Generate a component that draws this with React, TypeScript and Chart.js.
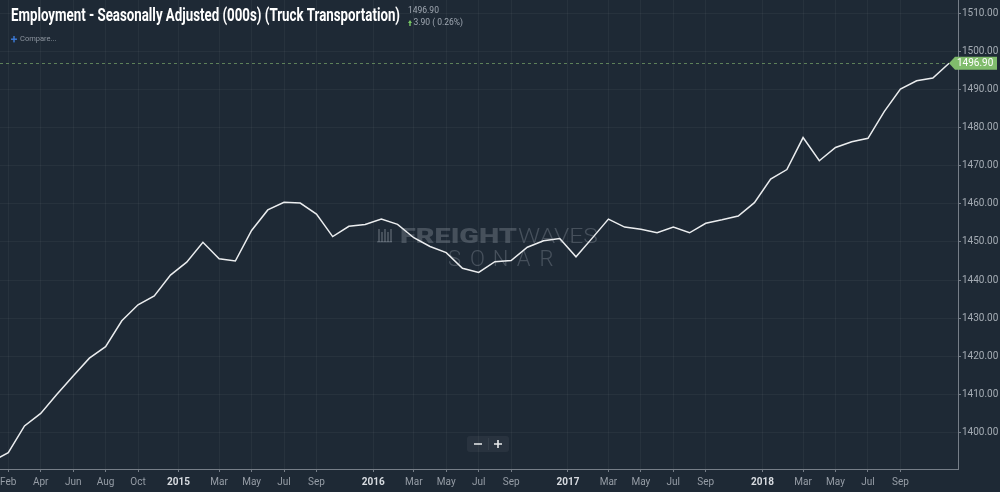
import React, { useEffect, useRef } from "react";
import { Chart, registerables } from "chart.js";
Chart.register(...registerables);

// Monthly values, Jan 2014 .. Dec 2018 (thousands of employees)
const employment = [
  1392.4, 1394.7, 1401.7, 1405.0, 1410.0, 1414.8, 1419.5, 1422.5, 1429.3, 1433.5, 1435.8, 1441.3,
  1444.7, 1449.9, 1445.6, 1445.0, 1453.0, 1458.4, 1460.4, 1460.2, 1457.3, 1451.4, 1454.1, 1454.6,
  1456.0, 1454.6, 1451.1, 1448.8, 1447.2, 1443.1, 1442.0, 1444.8, 1445.1, 1448.6, 1450.3, 1450.9,
  1446.1, 1451.0, 1456.0, 1453.9, 1453.3, 1452.4, 1453.9, 1452.4, 1454.9, 1455.8, 1456.8, 1460.3,
  1466.5, 1469.0, 1477.4, 1471.3, 1474.8, 1476.3, 1477.2, 1484.2, 1490.1, 1492.3, 1493.0, 1496.9,
];
// month index (0 = Jan 2014) of each x tick, and its label
const xTickValues = [1, 3, 5, 7, 9, 11.5, 14, 16, 18, 20, 23.5, 26, 28, 30, 32, 35.5, 38, 40, 42, 44, 47.5, 50, 52, 54, 56];
const xTickLabels = ["Feb", "Apr", "Jun", "Aug", "Oct", "2015", "Mar", "May", "Jul", "Sep", "2016", "Mar", "May", "Jul", "Sep", "2017", "Mar", "May", "Jul", "Sep", "2018", "Mar", "May", "Jul", "Sep"];
const yTickValues = [1400, 1410, 1420, 1430, 1440, 1450, 1460, 1470, 1480, 1490, 1500, 1510];

const TITLE = "Employment - Seasonally Adjusted (000s) (Truck Transportation)";
const LAST_VALUE = "1496.90";
const CHANGE = "3.90 ( 0.26%)";
const COMPARE = "Compare...";

const BG = "rgb(30,41,53)";
const GRID = "rgba(255,255,255,0.045)";
const AXIS = "rgb(118,126,136)";
const FONT = "Roboto";

function fitText(ctx: CanvasRenderingContext2D, text: string, x: number, y: number, width: number) {
  const w = ctx.measureText(text).width;
  ctx.save();
  ctx.translate(x, y);
  ctx.scale(width / w, 1);
  ctx.fillText(text, 0, 0);
  ctx.restore();
}

const decor = {
  id: "decor",
  beforeDraw(chart: any) {
    const ctx = chart.ctx as CanvasRenderingContext2D;
    ctx.save();
    ctx.fillStyle = BG;
    ctx.fillRect(0, 0, chart.width, chart.height);
    ctx.restore();
  },
  beforeDatasetsDraw(chart: any) {
    const ctx = chart.ctx as CanvasRenderingContext2D;
    const area = chart.chartArea;
    ctx.save();
    // watermark
    const wm = "rgba(140,150,162,0.36)";
    ctx.fillStyle = wm;
    for (let i = 0; i < 5; i++) ctx.fillRect(378 + i * 3, 229 + (i % 2) * 3, 2, 13 - (i % 2) * 3);
    ctx.fillRect(377, 241, 15, 1.5);
    ctx.textBaseline = "alphabetic";
    ctx.textAlign = "left";
    ctx.font = `900 20px ${FONT}`;
    fitText(ctx, "FREIGHT", 400, 243, 117);
    ctx.font = `300 20px ${FONT}`;
    fitText(ctx, "WAVES", 518, 243, 80);
    ctx.font = `300 22px ${FONT}`;
    const sonar = "SONAR";
    const step = 115 / sonar.length;
    for (let i = 0; i < sonar.length; i++) {
      ctx.textAlign = "center";
      ctx.fillText(sonar[i], 443 + step * (i + 0.5), 266);
    }
    // dashed last-value line
    const y = chart.scales.y.getPixelForValue(employment[employment.length - 1]);
    ctx.strokeStyle = "rgba(120,165,105,0.7)";
    ctx.lineWidth = 1;
    ctx.setLineDash([3, 3]);
    ctx.beginPath();
    ctx.moveTo(area.left, Math.round(y) + 0.5);
    ctx.lineTo(area.right, Math.round(y) + 0.5);
    ctx.stroke();
    ctx.restore();
  },
  afterDraw(chart: any) {
    const ctx = chart.ctx as CanvasRenderingContext2D;
    const area = chart.chartArea;
    ctx.save();
    // title
    ctx.fillStyle = "#ffffff";
    ctx.textBaseline = "alphabetic";
    ctx.textAlign = "left";
    ctx.font = `bold 18px ${FONT}`;
    fitText(ctx, TITLE, 11, 21, 389);
    // last value & change
    ctx.font = `8.5px ${FONT}`;
    ctx.fillStyle = "rgb(160,168,178)";
    ctx.textBaseline = "middle";
    ctx.fillText(LAST_VALUE, 408, 10.5);
    ctx.fillText(CHANGE, 413.5, 23);
    ctx.fillStyle = "rgb(120,200,100)";
    ctx.beginPath();
    ctx.moveTo(408, 23);
    ctx.lineTo(412, 23);
    ctx.lineTo(410, 20);
    ctx.closePath();
    ctx.fill();
    ctx.fillRect(409.3, 23, 1.4, 3);
    // compare
    ctx.fillStyle = "rgb(60,125,220)";
    ctx.fillRect(11, 38.5, 6, 1.4);
    ctx.fillRect(13.3, 36, 1.4, 6.4);
    ctx.fillStyle = "rgb(140,148,158)";
    ctx.font = `7.5px ${FONT}`;
    ctx.fillText(COMPARE, 20, 39.5);
    // zoom buttons
    ctx.fillStyle = "rgba(255,255,255,0.05)";
    ctx.beginPath();
    (ctx as any).roundRect(467, 436, 42, 16, 3);
    ctx.fill();
    ctx.fillStyle = "rgba(255,255,255,0.06)";
    ctx.fillRect(488, 438, 1, 12);
    ctx.strokeStyle = "#e8eaec";
    ctx.lineWidth = 1.6;
    ctx.beginPath();
    ctx.moveTo(474, 444);
    ctx.lineTo(482, 444);
    ctx.moveTo(494, 444);
    ctx.lineTo(502, 444);
    ctx.moveTo(498, 440);
    ctx.lineTo(498, 448);
    ctx.stroke();
    // last-value marker on the axis
    const y = chart.scales.y.getPixelForValue(employment[employment.length - 1]);
    ctx.fillStyle = "rgb(128,188,108)";
    ctx.beginPath();
    ctx.moveTo(area.right - 9, y);
    ctx.lineTo(area.right - 3, y - 6.5);
    ctx.lineTo(997, y - 6.5);
    ctx.lineTo(997, y + 6.5);
    ctx.lineTo(area.right - 3, y + 6.5);
    ctx.closePath();
    ctx.fill();
    ctx.fillStyle = "#ffffff";
    ctx.font = `10px ${FONT}`;
    ctx.textBaseline = "middle";
    ctx.fillText(LAST_VALUE, area.right - 1, y + 0.5);
    ctx.restore();
  },
};

export default function App() {
  const ref = useRef<HTMLCanvasElement>(null);
  useEffect(() => {
    if (!ref.current) return;
    const chart = new Chart(ref.current, {
      type: "line",
      data: {
        datasets: [
          {
            data: employment.map((v, i) => ({ x: i, y: v })),
            borderColor: "#ebedef",
            borderWidth: 1.5,
            pointRadius: 0,
            tension: 0,
            fill: false,
          },
        ],
      },
      options: {
        animation: false,
        responsive: false,
        maintainAspectRatio: false,
        layout: { padding: 0 },
        plugins: { legend: { display: false }, tooltip: { enabled: false }, title: { display: false } },
        scales: {
          x: {
            type: "linear",
            min: 0.49,
            max: 59.55,
            afterBuildTicks: (scale: any) => {
              scale.ticks = xTickValues.map((v) => ({ value: v }));
            },
            afterFit: (scale: any) => {
              scale.height = 23;
              scale.paddingLeft = 0;
              scale.paddingRight = 0;
            },
            grid: { color: GRID, tickColor: AXIS, tickLength: 3, drawTicks: true },
            border: { display: true, color: AXIS, width: 1 },
            ticks: {
              autoSkip: false,
              maxRotation: 0,
              padding: 4,
              callback: (v: any) => xTickLabels[xTickValues.indexOf(Number(v))],
              font: (c: any) => {
                const lbl = c.tick ? xTickLabels[xTickValues.indexOf(c.tick.value)] : "";
                return /^\d{4}$/.test(lbl || "") ? { family: FONT, size: 10, weight: "bold" } : { family: FONT, size: 10 };
              },
              color: (c: any) => {
                const lbl = c.tick ? xTickLabels[xTickValues.indexOf(c.tick.value)] : "";
                return /^\d{4}$/.test(lbl || "") ? "rgb(215,219,224)" : "rgb(150,157,166)";
              },
            },
          },
          y: {
            type: "linear",
            position: "right",
            min: 1390.4,
            max: 1513.5,
            afterBuildTicks: (scale: any) => {
              scale.ticks = yTickValues.map((v) => ({ value: v }));
            },
            afterFit: (scale: any) => {
              scale.width = 42;
              scale.paddingTop = 0;
              scale.paddingBottom = 0;
            },
            grid: { color: GRID, tickColor: AXIS, tickLength: 3, drawTicks: true },
            border: { display: true, color: AXIS, width: 1 },
            ticks: {
              padding: 1,
              color: "rgb(165,172,180)",
              font: { family: FONT, size: 10 },
              callback: (v: any) => Number(v).toFixed(2),
            },
          },
        },
      },
      plugins: [decor],
    } as any);
    return () => chart.destroy();
  }, []);
  return (
    <div style={{ position: "fixed", left: 0, top: 0, width: 1000, height: 492, background: BG }}>
      <canvas ref={ref} width={1000} height={492} style={{ display: "block", width: 1000, height: 492 }} />
    </div>
  );
}
